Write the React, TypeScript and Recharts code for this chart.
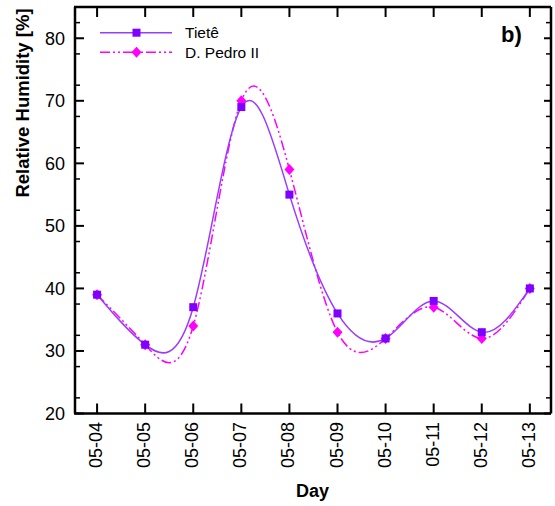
import { LineChart, Line, XAxis, YAxis, Legend } from 'recharts'

const days = ['05-04', '05-05', '05-06', '05-07', '05-08', '05-09', '05-10', '05-11', '05-12', '05-13']
const tiete = [39, 31, 37, 69, 55, 36, 32, 38, 33, 40]
const pedro = [39, 31, 34, 70, 59, 33, 32, 37, 32, 40]
const yMajor = [20, 30, 40, 50, 60, 70, 80]
const yMinor = [22.5, 25, 27.5, 32.5, 35, 37.5, 42.5, 45, 47.5, 52.5, 55, 57.5, 62.5, 65, 67.5, 72.5, 75, 77.5, 82.5]
const dayIdx = days.map((_, i) => i)

const data = days.map((d, i) => ({ i, day: d, tiete: tiete[i], pedro: pedro[i] }))

const PURPLE = '#8000FF'
const PURPLE_LINE = '#9A3CFF'
const MAGENTA = '#FF00FF'
const DASH = '10 3 2 3 2 3'
const FONT = '"Liberation Sans", Arial, sans-serif'
const X_DOMAIN: [number, number] = [-0.48, 9.44]
const Y_DOMAIN: [number, number] = [20, 85]

function Square({ cx, cy, fill }: any) {
  if (cx == null || cy == null) return null
  return <rect x={cx - 4} y={cy - 4} width={8} height={8} fill={fill} />
}

function Diamond({ cx, cy, fill }: any) {
  if (cx == null || cy == null) return null
  return <path d={`M${cx},${cy - 5.5}L${cx + 5},${cy}L${cx},${cy + 5.5}L${cx - 5},${cy}Z`} fill={fill} />
}

function DayTick({ x, payload }: any) {
  const y = 422
  return (
    <text x={x} y={y} dy={5} transform={`rotate(-90, ${x}, ${y})`} textAnchor="end"
      fontSize={18} fill="#000" fontFamily={FONT}>
      {days[payload.value]}
    </text>
  )
}

// tick marks only, no text
const NoLabel = () => <g />

function LegendBox() {
  return (
    <svg width={555} height={506} style={{ position: 'absolute', left: 0, top: 0, fontFamily: FONT }}>
      <line x1={100} x2={172} y1={32.7} y2={32.7} stroke={PURPLE_LINE} strokeWidth={1.5} />
      <Square cx={136.5} cy={32.7} fill={PURPLE} />
      <text x={185} y={38} fontSize={15.5} fill="#000">Tietê</text>
      <line x1={100} x2={172} y1={52.3} y2={52.3} stroke={MAGENTA} strokeWidth={1.5} strokeDasharray={DASH} />
      <Diamond cx={136.5} cy={52.3} fill={MAGENTA} />
      <text x={185} y={57.6} fontSize={15.5} fill="#000">D. Pedro II</text>
      <text x={501} y={42} fontSize={22} fontWeight="bold" fill="#000">b)</text>
    </svg>
  )
}

const frame = { stroke: '#000', strokeWidth: 2.5 }
const major = { stroke: '#000', strokeWidth: 2 }
const minor = { stroke: '#000', strokeWidth: 1.5 }

export default function App() {
  return (
    <div style={{ position: 'absolute', left: 0, top: 0, width: 555, height: 506, overflow: 'hidden', background: '#fff' }}>
      <LineChart width={555} height={506} data={data}
        margin={{ top: 7, right: 4, left: 0, bottom: 0 }}
        style={{ fontFamily: FONT }}>
        <XAxis xAxisId="b" type="number" dataKey="i" domain={X_DOMAIN} ticks={dayIdx}
          allowDataOverflow height={92.5} tickSize={0} tick={<DayTick />}
          axisLine={false} tickLine={false}
          label={{
            content: () => (
              <text x={312.5} y={497} textAnchor="middle" fontSize={18} fontWeight="bold" fill="#000" fontFamily={FONT}>Day</text>
            ),
          }} />
        <XAxis xAxisId="bt" type="number" dataKey="i" domain={X_DOMAIN} ticks={dayIdx} mirror
          allowDataOverflow height={1} tickSize={10} tick={NoLabel} axisLine={frame} tickLine={major} />
        <XAxis xAxisId="t" orientation="top" type="number" dataKey="i" domain={X_DOMAIN} ticks={dayIdx} mirror
          allowDataOverflow height={1} tickSize={10} tick={NoLabel} axisLine={frame} tickLine={major} />
        <YAxis yAxisId="l" domain={Y_DOMAIN} ticks={yMajor} allowDataOverflow width={74}
          tickSize={0} tickMargin={9} tick={{ fill: '#000', fontSize: 18 }}
          axisLine={false} tickLine={false}
          label={{
            content: () => (
              <text x={29} y={103} transform="rotate(-90, 29, 103)" textAnchor="middle" fontSize={18.5}
                fontWeight="bold" fill="#000" fontFamily={FONT}>Relative Humidity [%]</text>
            ),
          }} />
        <YAxis yAxisId="lm" domain={Y_DOMAIN} ticks={yMinor} allowDataOverflow width={1} mirror
          tickSize={6} tick={NoLabel} axisLine={false} tickLine={minor} />
        <YAxis yAxisId="lt" domain={Y_DOMAIN} ticks={yMajor} allowDataOverflow width={1} mirror
          tickSize={9} tick={NoLabel} axisLine={frame} tickLine={major} />
        <YAxis yAxisId="rm" orientation="right" domain={Y_DOMAIN} ticks={yMinor} allowDataOverflow width={1} mirror
          tickSize={4} tick={NoLabel} axisLine={false} tickLine={minor} />
        <YAxis yAxisId="r" orientation="right" domain={Y_DOMAIN} ticks={yMajor} allowDataOverflow width={1} mirror
          tickSize={7} tick={NoLabel} axisLine={frame} tickLine={major} />
        <Legend verticalAlign="middle" align="center" layout="horizontal" content={() => <LegendBox />}
          wrapperStyle={{ left: 0, top: 0, width: 555, height: 506, pointerEvents: 'none' }} />
        <Line xAxisId="b" yAxisId="l" type="natural" dataKey="pedro" name="D. Pedro II" stroke={MAGENTA}
          strokeWidth={1.5} strokeDasharray={DASH} dot={<Diamond fill={MAGENTA} />} activeDot={false}
          isAnimationActive={false} />
        <Line xAxisId="b" yAxisId="l" type="natural" dataKey="tiete" name="Tietê" stroke={PURPLE_LINE}
          strokeWidth={1.5} dot={<Square fill={PURPLE} />} activeDot={false} isAnimationActive={false} />
      </LineChart>
    </div>
  )
}
